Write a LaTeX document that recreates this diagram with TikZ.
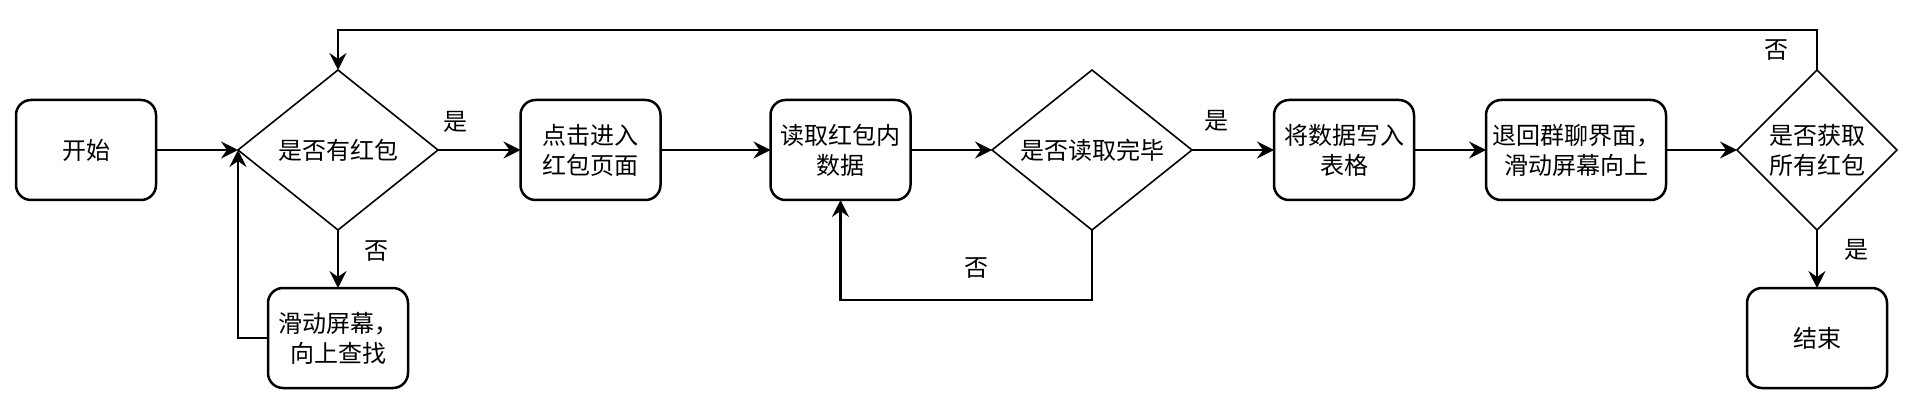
\documentclass[tikz,border=0pt]{standalone}
\usepackage{fontspec}
\newfontfamily\cjk{Noto Sans CJK SC}
\usetikzlibrary{shapes.geometric,arrows.meta}
\tikzset{
  base/.style={font=\cjk\fontsize{24}{30}\selectfont, align=center, inner sep=0pt, outer sep=0pt},
  procbox/.style={base, draw, line width=2.5pt, rounded corners=15pt, minimum height=100pt, minimum width=140pt},
  decide/.style={base, draw, diamond, aspect=1.25, line width=1.6pt, minimum width=200pt, minimum height=160pt},
  arr/.style={line width=2.6pt, -{Stealth[length=17pt,width=17pt,inset=6pt]}},
  lbl/.style={base}
}
\begin{document}
\begin{tikzpicture}[x=1pt,y=-1pt]
\fill[white] (0,0) rectangle (1914,406);
\useasboundingbox (0,0) rectangle (1914,406);
\node[procbox] (start) at (86,150) {开始};
\node[decide] (d1) at (338,150) {是否有红包};
\node[procbox] (click) at (590.5,150) {点击进入\\红包页面};
\node[procbox] (slide) at (338,338) {滑动屏幕，\\向上查找};
\node[procbox] (read) at (840.5,150) {读取红包内\\数据};
\node[decide] (d2) at (1092,150) {是否读取完毕};
\node[procbox] (write) at (1344,150) {将数据写入\\表格};
\node[procbox, minimum width=180pt] (back) at (1576,150) {退回群聊界面，\\滑动屏幕向上};
\node[decide, aspect=1, minimum width=160pt] (d3) at (1817,150) {是否获取\\所有红包};
\node[procbox] (end) at (1817,338) {结束};
\coordinate (top) at (0,30);
\coordinate (bot) at (0,300);
\draw[arr] (start) -- (d1.west);
\draw[arr] (d1) -- (click);
\draw[arr] (d1) -- (slide);
\draw[arr] (slide.west) -| (d1.west);
\draw[arr] (click) -- (read);
\draw[arr] (read) -- (d2.west);
\draw[arr] (d2) -- (write);
\draw[arr] (d2.south) -- (d2.south |- bot) -| (read.south);
\draw[arr] (write) -- (back);
\draw[arr] (back) -- (d3.west);
\draw[arr] (d3) -- (end);
\draw[arr] (d3.north) -- (d3.north |- top) -| (d1.north);
\node[lbl] (l1) at (455,122) {是};
\node[lbl] (l2) at (376,251) {否};
\node[lbl] (l3) at (976,268) {否};
\node[lbl] (l4) at (1216,121) {是};
\node[lbl] (l5) at (1776,50) {否};
\node[lbl] (l6) at (1856,250) {是};
\end{tikzpicture}
\end{document}
